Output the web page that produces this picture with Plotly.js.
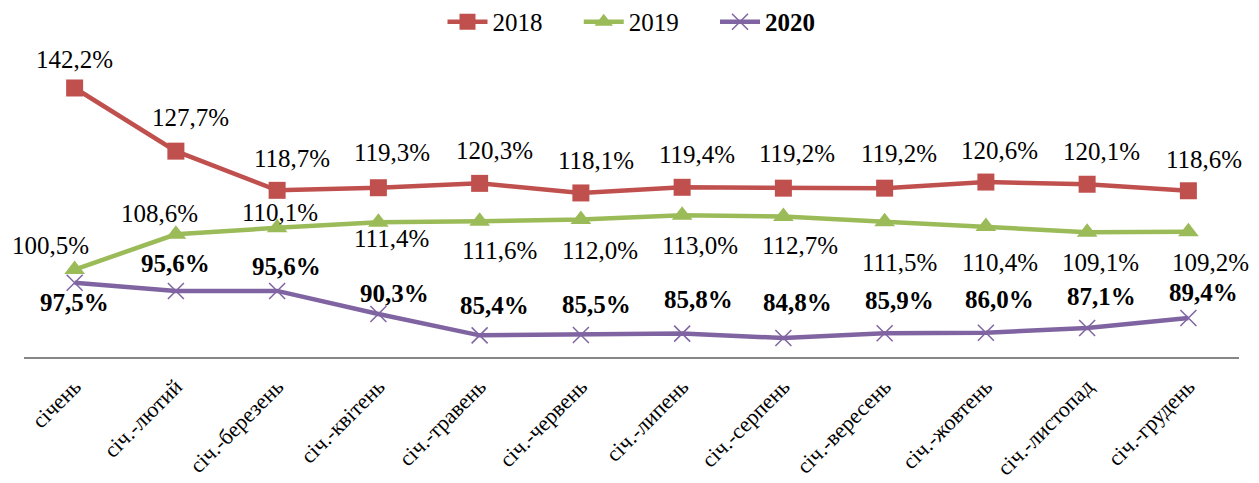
<!DOCTYPE html>
<html><head><meta charset="utf-8">
<script src="https://cdn.plot.ly/plotly-3.0.1.min.js"></script>
<style>html,body{margin:0;padding:0;background:#fff}#chart{width:1259px;height:483px}</style>
</head><body><div id="chart"></div>
<script>
const categories = ["січень","січ.-лютий","січ.-березень","січ.-квітень","січ.-травень","січ.-червень","січ.-липень","січ.-серпень","січ.-вересень","січ.-жовтень","січ.-листопад","січ.-грудень"];
const values2018 = [142.2,127.7,118.7,119.3,120.3,118.1,119.4,119.2,119.2,120.6,120.1,118.6];
const values2019 = [100.5,108.6,110.1,111.4,111.6,112.0,113.0,112.7,111.5,110.4,109.1,109.2];
const values2020 = [97.5,95.6,95.6,90.3,85.4,85.5,85.8,84.8,85.9,86.0,87.1,89.4];
const seriesNames = ['2018', '2019', '2020'];

// label offsets (pixels) – styling only
const off2018 = [[0,28],[15,34],[15,32],[14,35],[15,33],[15,32],[15,33],[14,35],[14,35],[14,32],[14,33],[16,31]];
const off2019 = [[-24,24],[-16,21],[3,15],[13,-16],[20,-29],[19,-31],[18,-30],[17,-29],[15,-41],[14,-36],[13,-30],[22,-31]];
const off2020 = [[0,-20],[0,27],[9,24],[16,21],[15,30],[16,30],[16,34],[14,35],[15,33],[14,33],[14,31],[15,25]];

const fmt = v => v.toFixed(1).replace('.', ',') + '%';
const C18 = '#C0504D', C19 = '#9BBB59', C20 = '#8064A2';
const FONT = 'Liberation Serif';
const PAD = '&nbsp;&nbsp;&nbsp;&nbsp;&nbsp;';

const traces = [
  {x: categories, y: values2018, name: seriesNames[0] + PAD, mode: 'lines+markers', type: 'scatter',
   line: {color: C18, width: 4.5}, marker: {symbol: 'square', size: 17, color: C18}},
  {x: categories, y: values2019, name: seriesNames[1] + PAD, mode: 'lines+markers', type: 'scatter',
   line: {color: C19, width: 4.5}, marker: {symbol: 'triangle-up', size: 18, color: C19}},
  {x: categories, y: values2020, name: '<b>' + seriesNames[2] + '</b>', mode: 'lines+markers', type: 'scatter',
   line: {color: C20, width: 4.5}, marker: {symbol: 'x-thin-open', size: 16, color: C20, line: {color: C20, width: 1.5}}}
];

const annotations = [];
function addLabels(vals, offs, bold) {
  vals.forEach((v, i) => {
    annotations.push({x: categories[i], y: v, text: bold ? '<b>' + fmt(v) + '</b>' : fmt(v),
      showarrow: false, xshift: offs[i][0], yshift: offs[i][1], xanchor: 'center', yanchor: 'middle',
      font: {family: FONT, size: 25, color: '#000'}});
  });
}
addLabels(values2018, off2018, false);
addLabels(values2019, off2019, false);
addLabels(values2020, off2020, true);

const layout = {
  width: 1259, height: 483,
  margin: {l: 24, r: 20, t: 40, b: 126, autoexpand: false},
  paper_bgcolor: '#fff', plot_bgcolor: '#fff',
  font: {family: FONT, color: '#000'},
  showlegend: true,
  legend: {orientation: 'h', x: 0.5, xanchor: 'center', y: 1.057, yanchor: 'middle',
    font: {family: FONT, size: 25, color: '#000'}, itemwidth: 40, traceorder: 'normal'},
  xaxis: {type: 'category', range: [-0.5, 11.5], showgrid: false, zeroline: false,
    showline: true, linecolor: '#868686', linewidth: 2, ticks: '', tickangle: -45, ticklabelstandoff: 6,
    tickfont: {family: FONT, size: 22, color: '#000'}, fixedrange: true, automargin: false},
  yaxis: {range: [80.43, 153.22], showgrid: false, zeroline: false, showline: false,
    showticklabels: false, ticks: '', fixedrange: true, automargin: false},
  annotations: annotations
};

function draw() { Plotly.newPlot('chart', traces, layout, {displayModeBar: false, staticPlot: true}); }
if (document.fonts && document.fonts.load) {
  Promise.all([document.fonts.load('24px "Liberation Serif"'), document.fonts.load('bold 24px "Liberation Serif"')])
    .then(draw, draw);
} else { draw(); }
</script>
</body></html>
